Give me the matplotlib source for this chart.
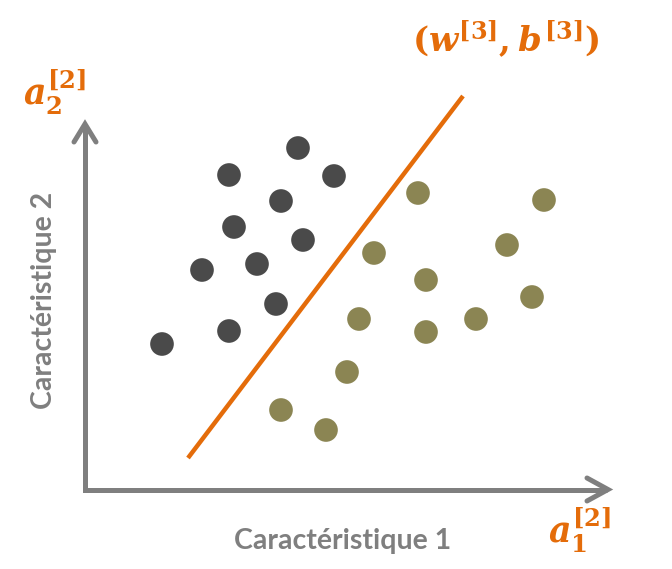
import matplotlib
matplotlib.use("Agg")
import matplotlib.pyplot as plt
import numpy as np

# Feature-space coordinates (a1 increases to the right, a2 increases upward on screen)
class0_x = [298, 229, 334, 281, 234, 303, 202, 257, 276, 229, 162]
class0_y = [148, 175, 176, 201, 227, 240, 270, 264, 304, 331, 344]
class1_x = [418, 544, 374, 507, 426, 532, 359, 426, 476, 347, 281, 326]
class1_y = [193, 200, 253, 245, 280, 297, 319, 332, 319, 372, 410, 430]

# Decision boundary end points
boundary_x = [188, 463]
boundary_y = [458, 96]

xlabel = "Caractéristique 1"
ylabel = "Caractéristique 2"

GRAY = "#7f7f7f"
DARK = "#4a4a4a"
OLIVE = "#8b8553"
ORANGE = "#E46C0A"

plt.rcParams["mathtext.fontset"] = "custom"
plt.rcParams["mathtext.it"] = "DejaVu Serif:italic:bold"
plt.rcParams["mathtext.rm"] = "DejaVu Serif:bold"
plt.rcParams["mathtext.bf"] = "DejaVu Serif:bold"

fig = plt.figure(figsize=(6.72, 5.69), dpi=100)
ax = fig.add_axes([0, 0, 1, 1])
ax.set_xlim(0, 672)
ax.set_ylim(569, 0)
ax.axis("off")

lw = 3.6
# axes with open arrow heads
ox, oy = 85, 489.5
ax.plot([ox, ox, 607], [124, oy, oy], color=GRAY, lw=lw, solid_capstyle="butt",
        solid_joinstyle="miter")
ax.plot([74, ox, 96], [142, 124, 142], color=GRAY, lw=lw, solid_capstyle="round",
        solid_joinstyle="miter")
ax.plot([587, 608, 587], [478, oy, 501], color=GRAY, lw=lw, solid_capstyle="round",
        solid_joinstyle="miter")

# boundary
ax.plot(boundary_x, boundary_y, color=ORANGE, lw=3.2, solid_capstyle="butt", zorder=2)

# points
ax.scatter(class0_x, class0_y, s=290, color=DARK, edgecolors="none", zorder=3)
ax.scatter(class1_x, class1_y, s=290, color=OLIVE, edgecolors="none", zorder=3)

# labels
ax.text(343, 541, xlabel, ha="center", va="center", fontsize=20.5, fontweight="bold",
        color=GRAY, family="Lato")
ax.text(44, 300, ylabel, ha="center", va="center", rotation=90, fontsize=20.5,
        fontweight="bold", color=GRAY, family="Lato")

ax.text(55, 92, r"$a_2^{[2]}$", ha="center", va="center", fontsize=25, color=ORANGE)
ax.text(580, 530, r"$a_1^{[2]}$", ha="center", va="center", fontsize=25, color=ORANGE)
ax.text(506, 40, r"$(w^{[3]},b^{[3]})$", ha="center", va="center", fontsize=24.5,
        color=ORANGE)

fig.savefig("out.png", dpi=100)
